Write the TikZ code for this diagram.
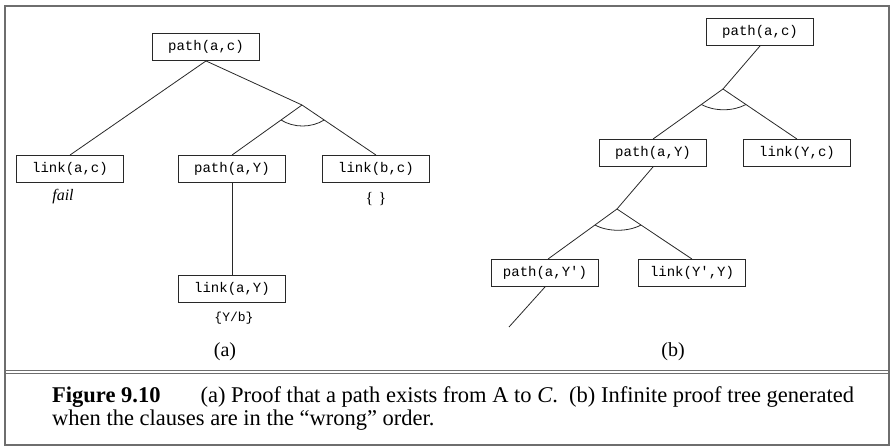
\documentclass[tikz,border=0pt]{standalone}
\usepackage{fontspec}
\setmainfont{Liberation Serif}
\newfontfamily\monofont{Liberation Mono}
\usetikzlibrary{calc}
\definecolor{framecol}{RGB}{110,110,110}
\definecolor{linecol}{RGB}{40,40,40}
\tikzset{
  goalbox/.style={draw=linecol, line width=0.9pt, minimum width=107pt, minimum height=27pt, inner sep=0pt, font=\monofont\fontsize{14}{15}\selectfont},
  edge/.style={draw=linecol, line width=0.8pt},
  andarc/.style={draw=linecol, line width=0.8pt},
  subst/.style={font=\monofont\fontsize{13}{14}\selectfont, inner sep=0pt},
  panel/.style={font=\fontsize{20}{22}\selectfont, inner sep=0pt},
  captext/.style={font=\fontsize{22.5}{24}\selectfont, inner sep=0pt, anchor=base west}
}
\begin{document}
\begin{tikzpicture}[x=1pt,y=-1pt]
\useasboundingbox (0,0) rectangle (894,446);
% frame
\draw[framecol, line width=1.5pt] (5,6) rectangle (889,445);
\draw[framecol, line width=1pt] (5,370) -- (889,370);
\draw[framecol, line width=1pt] (5,373.5) -- (889,373.5);

% ---------- (a)
\node[goalbox] (pac) at (206,47) {path(a,c)};
\node[goalbox] (lac) at (70,169) {link(a,c)};
\node[goalbox] (pay) at (232,169) {path(a,Y)};
\node[goalbox] (lbc) at (376,169) {link(b,c)};
\node[goalbox] (lay) at (232,289) {link(a,Y)};
\node[font=\itshape\fontsize{16}{18}\selectfont, inner sep=0pt] (fail) at (63,197) {fail};
\node[font=\fontsize{16}{18}\selectfont, inner sep=0pt] (empty) at (376,199) {\{\,\,\}};
\node[subst] (yb) at (234,318) {\{Y/b\}};
\node[panel] (la) at (225,352) {(a)};

\coordinate (bra) at (302,105);
\draw[edge] (pac.south) -- (lac.north);
\draw[edge] (pac.south) -- (bra) -- (lbc.north);
\draw[edge] (bra) -- (pay.north);
\draw[edge] (pay.south) -- (lay.north);
\draw[andarc] ($(bra)!0.3!(pay.north)$) .. controls ($(bra)!0.3!(pay.north)+(13,8)$) and ($(bra)!0.3!(lbc.north)+(-13,8)$) .. ($(bra)!0.3!(lbc.north)$);

% ---------- (b)
\node[goalbox] (bpac) at (760,32) {path(a,c)};
\node[goalbox] (bpay) at (653,153) {path(a,Y)};
\node[goalbox] (blyc) at (797,153) {link(Y,c)};
\node[goalbox] (bpayp) at (545,273) {path(a,Y')};
\node[goalbox] (blypy) at (692,273) {link(Y',Y)};
\node[panel] (lb) at (673,352) {(b)};

\coordinate (brb1) at (723,89);
\coordinate (brb2) at (617,209);
\coordinate (tail) at (509,327);
\draw[edge] (bpac.south) -- (brb1);
\draw[edge] (brb1) -- (bpay.north);
\draw[edge] (brb1) -- (blyc.north);
\draw[andarc] ($(brb1)!0.31!(bpay.north)$) .. controls ($(brb1)!0.31!(bpay.north)+(13,7)$) and ($(brb1)!0.31!(blyc.north)+(-13,7)$) .. ($(brb1)!0.31!(blyc.north)$);
\draw[edge] (bpay.south) -- (brb2);
\draw[edge] (brb2) -- ($(bpayp.north)+(3,0)$);
\draw[edge] (brb2) -- (blypy.north);
\draw[andarc] ($(brb2)!0.32!($(bpayp.north)+(3,0)$)$) .. controls ($(brb2)!0.32!($(bpayp.north)+(3,0)$)+(13,7)$) and ($(brb2)!0.32!(blypy.north)+(-13,7)$) .. ($(brb2)!0.32!(blypy.north)$);
\draw[edge] (bpayp.south) -- (tail);

% ---------- caption
\node[captext] (cap1) at (52,402) {\textbf{Figure 9.10}\hspace{40pt}(a) Proof that a path exists from A to \textit{C}.\ \ (b) Infinite proof tree generated};
\node[captext] (cap2) at (52,425) {when the clauses are in the ``wrong'' order.};
\end{tikzpicture}
\end{document}
